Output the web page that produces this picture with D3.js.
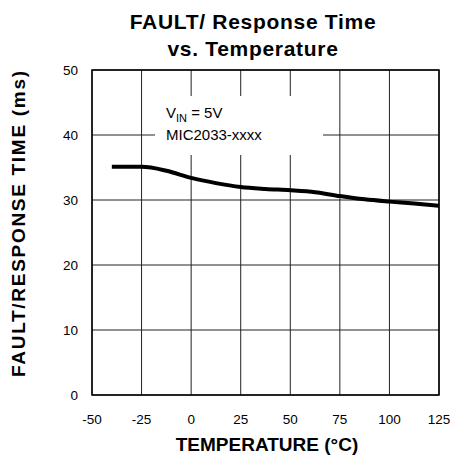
<!DOCTYPE html>
<html>
<head>
<meta charset="utf-8">
<script src="https://cdn.jsdelivr.net/npm/d3@7"></script>
<style>
  body { margin: 0; background: #fff; }
  svg { display: block; font-family: "Liberation Sans", Arial, sans-serif; }
</style>
</head>
<body>
<svg id="chart" width="450" height="456"></svg>
<script>
// curve
const temps = [-40, -25, -12.5, 0, 12.5, 25, 37.5, 50, 62.5, 75, 87.5, 100, 112.5, 125];
const faultTime = [35.1, 35.1, 34.5, 33.4, 32.6, 32.0, 31.7, 31.5, 31.2, 30.6, 30.1, 29.75, 29.45, 29.1];

const xTicks = [-50, -25, 0, 25, 50, 75, 100, 125];
const yTicks = [0, 10, 20, 30, 40, 50];

const svg = d3.select('#chart');

const x = d3.scaleLinear().domain([-50, 125]).range([92, 439]);
const y = d3.scaleLinear().domain([0, 50]).range([395, 70]);

// grid
svg.append('g')
  .selectAll('line')
  .data(xTicks)
  .enter()
  .append('line')
  .attr('x1', d => x(d)).attr('x2', d => x(d))
  .attr('y1', y(0)).attr('y2', y(50))
  .attr('stroke', '#222')
  .attr('stroke-width', 1);

svg.append('g')
  .selectAll('line')
  .data(yTicks)
  .enter()
  .append('line')
  .attr('x1', x(-50)).attr('x2', x(125))
  .attr('y1', d => y(d)).attr('y2', d => y(d))
  .attr('stroke', '#222')
  .attr('stroke-width', 1);

// white box behind the note
svg.append('rect')
  .attr('x', 155).attr('y', 96)
  .attr('width', 168).attr('height', 59)
  .attr('fill', '#fff');

// frame
svg.append('rect')
  .attr('x', x(-50)).attr('y', y(50))
  .attr('width', x(125) - x(-50))
  .attr('height', y(0) - y(50))
  .attr('fill', 'none')
  .attr('stroke', '#000')
  .attr('stroke-width', 1.5);

// curve
const line = d3.line()
  .x((d, i) => x(temps[i]))
  .y(d => y(d))
  .curve(d3.curveMonotoneX);

svg.append('path')
  .datum(faultTime)
  .attr('d', line)
  .attr('fill', 'none')
  .attr('stroke', '#000')
  .attr('stroke-width', 4);

// tick labels
svg.append('g')
  .selectAll('text')
  .data(xTicks)
  .enter()
  .append('text')
  .attr('x', d => x(d))
  .attr('y', 424)
  .attr('text-anchor', 'middle')
  .style('font-size', '13.5px')
  .text(d => d);

svg.append('g')
  .selectAll('text')
  .data(yTicks)
  .enter()
  .append('text')
  .attr('x', 78)
  .attr('y', d => y(d) + 5)
  .attr('text-anchor', 'end')
  .style('font-size', '13.5px')
  .text(d => d);

// note
const note = svg.append('text')
  .attr('x', 166).attr('y', 118)
  .style('font-size', '15px');
note.append('tspan').text('V');
note.append('tspan').attr('dy', 4).style('font-size', '11px').text('IN');
note.append('tspan').attr('dy', -4).text(' = 5V');

svg.append('text')
  .attr('x', 166).attr('y', 140)
  .style('font-size', '15px')
  .text('MIC2033-xxxx');

// titles
svg.append('text')
  .attr('x', 253).attr('y', 29)
  .attr('text-anchor', 'middle')
  .style('font-size', '21px')
  .style('font-weight', 'bold')
  .style('letter-spacing', '0.7px')
  .text('FAULT/ Response Time');

svg.append('text')
  .attr('x', 253).attr('y', 56)
  .attr('text-anchor', 'middle')
  .style('font-size', '21px')
  .style('font-weight', 'bold')
  .style('letter-spacing', '0.7px')
  .text('vs. Temperature');

svg.append('text')
  .attr('x', 267).attr('y', 451)
  .attr('text-anchor', 'middle')
  .style('font-size', '19px')
  .style('font-weight', 'bold')
  .text('TEMPERATURE (°C)');

svg.append('text')
  .attr('transform', 'translate(25,224) rotate(-90)')
  .attr('text-anchor', 'middle')
  .attr('textLength', 306)
  .attr('lengthAdjust', 'spacing')
  .style('font-size', '19px')
  .style('font-weight', 'bold')
  .text('FAULT/RESPONSE TIME (ms)');
</script>
</body>
</html>
